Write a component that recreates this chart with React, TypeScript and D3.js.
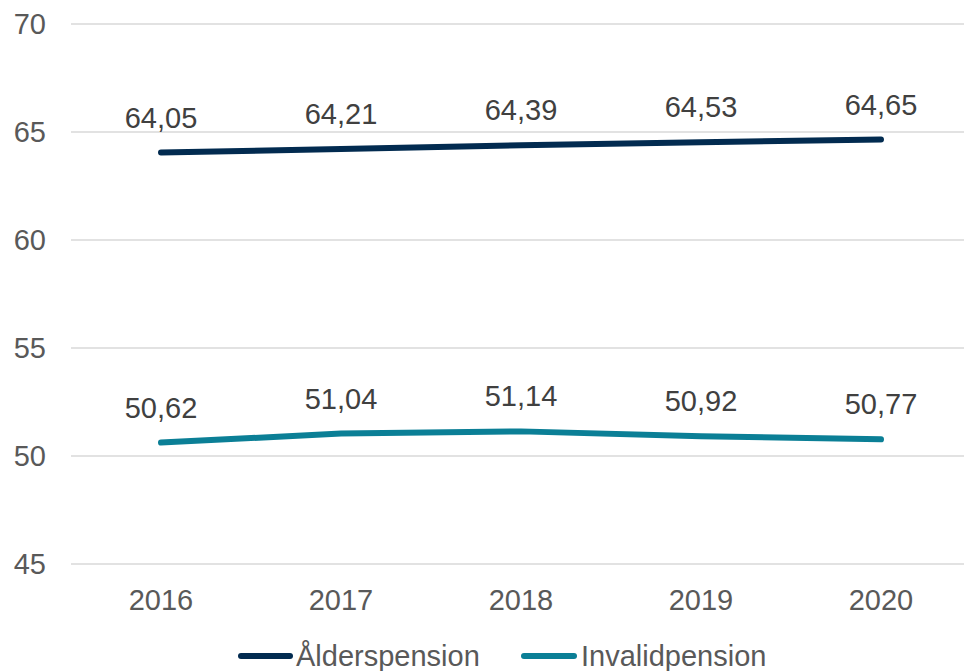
import React from "react";
import * as d3 from "d3";

const years = ["2016", "2017", "2018", "2019", "2020"];
const alderValues = [64.05, 64.21, 64.39, 64.53, 64.65];
const invalidValues = [50.62, 51.04, 51.14, 50.92, 50.77];
const yTicks = [45, 50, 55, 60, 65, 70];
const seriesNames = ["Ålderspension", "Invalidpension"];
const seriesColors = ["#022B50", "#0B7F96"];

const W = 964;
const H = 671;
const FONT = "'Liberation Sans', Arial, sans-serif";
const FS = 29;

export default function App() {
  const x = d3.scaleBand<string>().domain(years).range([71, 971]);
  const y = d3.scaleLinear().domain([45, 70]).range([564, 24]);
  const cx = (d: string) => (x(d) as number) + x.bandwidth() / 2;
  const fmt = (v: number) => v.toFixed(2).replace(".", ",");
  const line = d3
    .line<number>()
    .x((_, i) => cx(years[i]))
    .y((v) => y(v));
  const series = [alderValues, invalidValues];

  return (
    <svg
      width={W}
      height={H}
      style={{ position: "absolute", left: 0, top: 0, background: "#fff" }}
      fontFamily={FONT}
    >
      {yTicks.map((t) => (
        <g key={t}>
          <line x1={71} x2={971} y1={y(t)} y2={y(t)} stroke="#D9D9D9" strokeWidth={1.5} />
          <text x={46} y={y(t) + 10} textAnchor="end" fontSize={FS} fill="#595959">
            {t}
          </text>
        </g>
      ))}
      {years.map((yr) => (
        <text key={yr} x={cx(yr)} y={610} textAnchor="middle" fontSize={FS} fill="#595959">
          {yr}
        </text>
      ))}
      {series.map((vals, si) => (
        <g key={si}>
          <path
            d={line(vals) || ""}
            fill="none"
            stroke={seriesColors[si]}
            strokeWidth={6}
            strokeLinecap="round"
            strokeLinejoin="round"
          />
          {vals.map((v, i) => (
            <text
              key={i}
              x={cx(years[i])}
              y={y(v) - 25}
              textAnchor="middle"
              fontSize={FS}
              fill="#404040"
            >
              {fmt(v)}
            </text>
          ))}
        </g>
      ))}
      {[
        { x0: 241, x1: 290, tx: 296 },
        { x0: 524, x1: 574, tx: 581 },
      ].map((l, i) => (
        <g key={i}>
          <line
            x1={l.x0}
            x2={l.x1}
            y1={656}
            y2={656}
            stroke={seriesColors[i]}
            strokeWidth={6}
            strokeLinecap="round"
          />
          <text x={l.tx} y={666} fontSize={FS} fill="#595959">
            {seriesNames[i]}
          </text>
        </g>
      ))}
    </svg>
  );
}
